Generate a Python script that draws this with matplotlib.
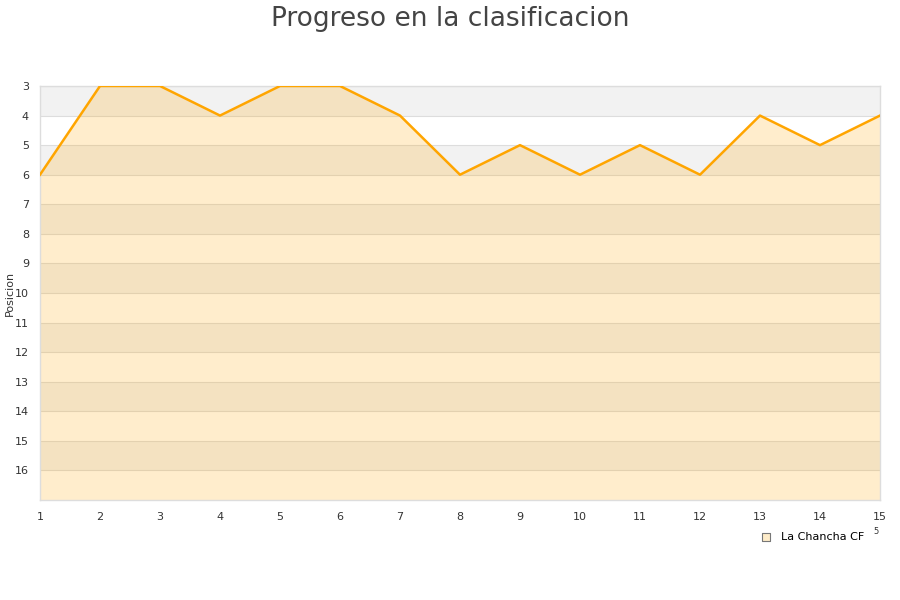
import numpy as np
import matplotlib.pyplot as plt

jornadas = list(range(1, 16))
posiciones = [6, 3, 3, 4, 3, 3, 4, 6, 5, 6, 5, 6, 4, 5, 4]
equipo = "La Chancha CF"
y_ticks = list(range(3, 17))

fig = plt.figure(figsize=(9, 6), dpi=100)
ax = fig.add_axes([40 / 900, 100 / 600, 840 / 900, 414 / 600])

ax.set_xlim(1, 15)
ax.set_ylim(17, 3)

# alternating bands
for y0 in range(3, 17, 2):
    ax.axhspan(y0, y0 + 1, color="#f2f2f2", lw=0, zorder=0)

for y in y_ticks:
    ax.axhline(y, color="#dddddd", lw=0.8, zorder=1)

ax.fill_between(jornadas, posiciones, 17, color="#ffa500", alpha=0.2, lw=0, zorder=2)
ax.plot(jornadas, posiciones, color="#ffa500", lw=1.8, zorder=3)

ax.set_yticks(y_ticks)
ax.set_xticks(jornadas)
ax.tick_params(length=0, labelsize=8, colors="#333333")
ax.tick_params(axis="y", pad=8)
ax.tick_params(axis="x", pad=9)
for s in ax.spines.values():
    s.set_color("#dddddd")
    s.set_linewidth(1)

ax.set_ylabel("Posicion", fontsize=8, color="#333333")
ax.yaxis.set_label_coords(-25 / 840, 0.5)
fig.suptitle("Progreso en la clasificacion", fontsize=19, color="#444444", y=0.99)

ax.scatter([], [], marker="s", s=36, color="#feecc9", edgecolors="#777777",
           linewidths=0.8, label=equipo)
ax.legend(loc="center left", bbox_to_anchor=(755 / 900, 1 - 537 / 600),
          bbox_transform=fig.transFigure, frameon=False, fontsize=8,
          handletextpad=0.3, borderaxespad=0, borderpad=0)
fig.text(873 / 900, 1 - 532 / 600, "5", fontsize=6, color="#333333", va="center")

fig.savefig("out.png")
